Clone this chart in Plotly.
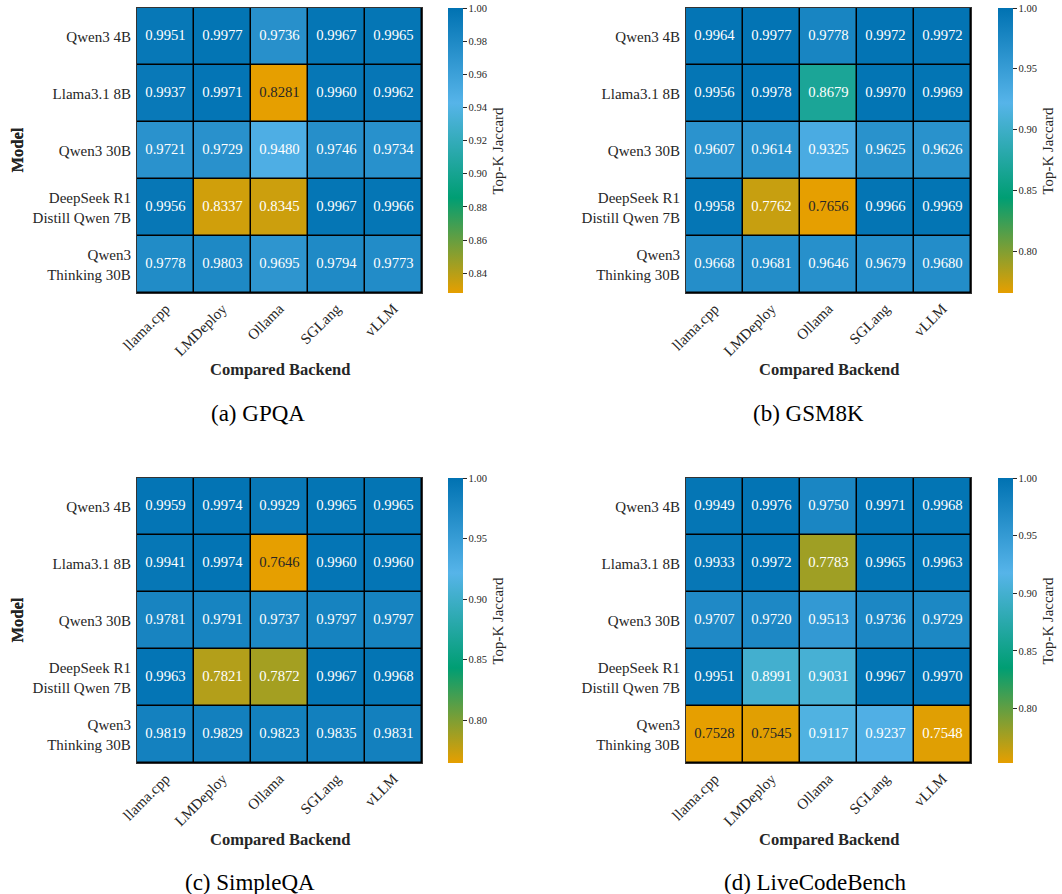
import plotly.graph_objects as go

backends = ["llama.cpp", "LMDeploy", "Ollama", "SGLang", "vLLM"]
models = ["Qwen3 4B", "Llama3.1 8B", "Qwen3 30B",
          "DeepSeek R1<br>Distill Qwen 7B", "Qwen3<br>Thinking 30B"]

gpqa = [
    [0.9951, 0.9977, 0.9736, 0.9967, 0.9965],
    [0.9937, 0.9971, 0.8281, 0.9960, 0.9962],
    [0.9721, 0.9729, 0.9480, 0.9746, 0.9734],
    [0.9956, 0.8337, 0.8345, 0.9967, 0.9966],
    [0.9778, 0.9803, 0.9695, 0.9794, 0.9773],
]
gsm8k = [
    [0.9964, 0.9977, 0.9778, 0.9972, 0.9972],
    [0.9956, 0.9978, 0.8679, 0.9970, 0.9969],
    [0.9607, 0.9614, 0.9325, 0.9625, 0.9626],
    [0.9958, 0.7762, 0.7656, 0.9966, 0.9969],
    [0.9668, 0.9681, 0.9646, 0.9679, 0.9680],
]
simpleqa = [
    [0.9959, 0.9974, 0.9929, 0.9965, 0.9965],
    [0.9941, 0.9974, 0.7646, 0.9960, 0.9960],
    [0.9781, 0.9791, 0.9737, 0.9797, 0.9797],
    [0.9963, 0.7821, 0.7872, 0.9967, 0.9968],
    [0.9819, 0.9829, 0.9823, 0.9835, 0.9831],
]
livecodebench = [
    [0.9949, 0.9976, 0.9750, 0.9971, 0.9968],
    [0.9933, 0.9972, 0.7783, 0.9965, 0.9963],
    [0.9707, 0.9720, 0.9513, 0.9736, 0.9729],
    [0.9951, 0.8991, 0.9031, 0.9967, 0.9970],
    [0.7528, 0.7545, 0.9117, 0.9237, 0.7548],
]
titles = ["(a) GPQA", "(b) GSM8K", "(c) SimpleQA", "(d) LiveCodeBench"]
ticks_fine = [0.84, 0.86, 0.88, 0.90, 0.92, 0.94, 0.96, 0.98, 1.00]
ticks_coarse = [0.80, 0.85, 0.90, 0.95, 1.00]
cbar_ticks = [ticks_fine, ticks_coarse, ticks_coarse, ticks_coarse]

cmap_hex = ["#E69F00", "#009E73", "#56B4E9", "#0072B2"]
colorscale = [[i / 3, c] for i, c in enumerate(cmap_hex)]

FONT = "Liberation Serif, Times New Roman, serif"
DARK = "#262626"
W, H = 1062, 894


def px(xp):   # page pixel -> paper x
    return xp / W


def py(yp):   # page pixel -> paper y
    return 1 - yp / H


def hex2rgb(h):
    return tuple(int(h[i:i + 2], 16) / 255 for i in (1, 3, 5))


def cmap_rgb(t):
    idx = min(int(t * 256), 255)
    t = idx / 255
    seg = min(int(t * 3), 2)
    f = t * 3 - seg
    a, b = hex2rgb(cmap_hex[seg]), hex2rgb(cmap_hex[seg + 1])
    return tuple(a[k] + (b[k] - a[k]) * f for k in range(3))


def lum(rgb):
    def lin(c):
        return c / 12.92 if c <= 0.03928 else ((c + 0.055) / 1.055) ** 2.4
    r, g, b = (lin(c) for c in rgb)
    return 0.2126 * r + 0.7152 * g + 0.0722 * b


# page-pixel boxes (left, right, top, bottom) of each heatmap
boxes = [(137, 422, 8, 293), (686, 971, 8, 293),
         (137, 422, 478, 763), (686, 971, 478, 763)]
cbar_left = [448, 998, 448, 998]
cbar_title_x = [497, 1047, 497, 1047]
sub_x = [258, 808, 250, 815]
sub_y = [413, 413, 882, 882]

fig = go.Figure()
datasets = [gpqa, gsm8k, simpleqa, livecodebench]
for i, z in enumerate(datasets):
    n = i + 1
    xa = "x" if n == 1 else f"x{n}"
    ya = "y" if n == 1 else f"y{n}"
    zmin = min(min(r) for r in z)
    zmax = 1.0
    l, r, t, b = boxes[i]
    fig.add_trace(go.Heatmap(
        z=z, x=backends, y=models, xaxis=xa, yaxis=ya,
        zmin=zmin, zmax=zmax, colorscale=colorscale,
        xgap=1.5, ygap=1.5, hoverinfo="skip",
        colorbar=dict(
            x=px(cbar_left[i]), xanchor="left", xpad=0, ypad=0,
            y=py((t + b) / 2), yanchor="middle",
            len=b - t, lenmode="pixels", thickness=15,
            outlinewidth=0, ticks="outside", ticklen=4, tickwidth=1,
            tickcolor=DARK, tickmode="array", tickvals=cbar_ticks[i],
            ticktext=[f"{v:.2f}" for v in cbar_ticks[i]],
            tickfont=dict(family=FONT, size=10.5, color=DARK),
        ),
    ))
    xs, ys, txt, cols = [], [], [], []
    for ri, row in enumerate(z):
        for ci, v in enumerate(row):
            xs.append(backends[ci])
            ys.append(models[ri])
            txt.append(f"{v:.4f}")
            frac = (v - zmin) / (zmax - zmin)
            cols.append(DARK if lum(cmap_rgb(frac)) > 0.408 else "white")
    fig.add_trace(go.Scatter(
        x=xs, y=ys, text=txt, mode="text", xaxis=xa, yaxis=ya,
        textfont=dict(family=FONT, size=14.7, color=cols),
        hoverinfo="skip", showlegend=False,
    ))
    axkw = dict(showline=True, mirror=True, linecolor="#333333", linewidth=1.2,
                showgrid=False, zeroline=False, ticks="", automargin=False,
                tickfont=dict(family=FONT, size=15, color=DARK))
    fig.layout[("xaxis" if n == 1 else f"xaxis{n}")] = dict(
        domain=[px(l), px(r)], anchor=ya, tickangle=-45,
        categoryorder="array", categoryarray=backends, **axkw)
    fig.layout[("yaxis" if n == 1 else f"yaxis{n}")] = dict(
        domain=[py(b), py(t)], anchor=xa, autorange="reversed",
        categoryorder="array", categoryarray=models, ticklabelstandoff=2, **axkw)

    cy = (t + b) / 2
    fig.add_annotation(text="Top-K Jaccard", x=px(cbar_title_x[i]), y=py(cy),
                       xref="paper", yref="paper", textangle=-90, showarrow=False,
                       font=dict(family=FONT, size=14.9, color=DARK),
                       xanchor="center", yanchor="middle")
    fig.add_annotation(text="<b>Compared Backend</b>", x=px((l + r) / 2),
                       y=py(b + 76), xref="paper", yref="paper",
                       showarrow=False, font=dict(family=FONT, size=16.5, color=DARK),
                       xanchor="center", yanchor="middle")
    fig.add_annotation(text="<b>Model</b>", x=px(17), y=py(cy),
                       xref="paper", yref="paper", textangle=-90, showarrow=False,
                       font=dict(family=FONT, size=16.5, color=DARK),
                       xanchor="center", yanchor="middle")
    fig.add_annotation(text=titles[i], x=px(sub_x[i]), y=py(sub_y[i]),
                       xref="paper", yref="paper", showarrow=False,
                       font=dict(family=FONT, size=23, color="black"),
                       xanchor="center", yanchor="middle")

fig.update_layout(
    width=W, height=H, margin=dict(l=0, r=0, t=0, b=0, autoexpand=False),
    plot_bgcolor="black", paper_bgcolor="white", showlegend=False,
    font=dict(family=FONT, color=DARK),
)
fig.write_html("out.html", config={"displayModeBar": False},
               post_script="document.body.style.margin='0';"
                           "document.body.style.overflow='hidden';")
